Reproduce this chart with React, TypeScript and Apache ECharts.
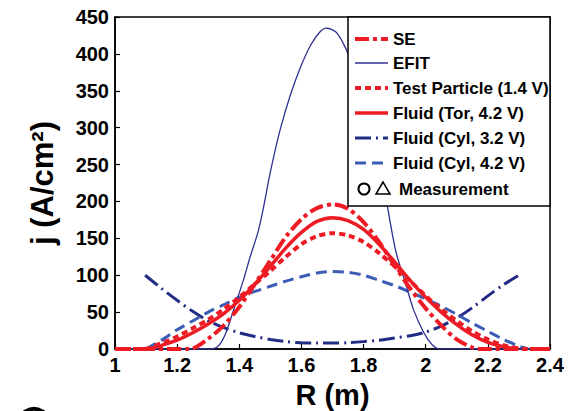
import React, { useEffect, useRef } from "react";
import * as echarts from "echarts";

// x ticks / y ticks
const xTicks = [1, 1.2, 1.4, 1.6, 1.8, 2, 2.2, 2.4];
const yTicks = [0, 50, 100, 150, 200, 250, 300, 350, 400, 450];

// SE
const seR = [1.0, 1.24, 1.3, 1.35, 1.4, 1.45, 1.5, 1.55, 1.6, 1.65, 1.705, 1.75, 1.8, 1.85, 1.9, 1.95, 2.0, 2.05, 2.1, 2.15, 2.18, 2.4];
const seJ = [0, 0, 14, 32, 57, 88, 120, 152, 176, 191, 196, 190, 172, 145, 113, 82, 55, 32, 13, 2, 0, 0];

// EFIT
const efitR = [1.0, 1.3, 1.33, 1.355, 1.387, 1.413, 1.435, 1.46, 1.478, 1.5, 1.532, 1.565, 1.597, 1.63, 1.66, 1.68, 1.71, 1.73, 1.752, 1.8, 1.83, 1.865, 1.903, 1.935, 1.961, 1.994, 2.02, 2.045, 2.4];
const efitJ = [0, 0, 3, 20, 60, 93, 125, 158, 192, 240, 298, 345, 382, 412, 430, 435, 430, 418, 398, 335, 285, 220, 134, 89, 53, 22, 6, 0, 0];

// Test Particle (1.4 V)
const tpR = [1.0, 1.09, 1.15, 1.2, 1.25, 1.3, 1.35, 1.4, 1.45, 1.5, 1.55, 1.6, 1.65, 1.7, 1.75, 1.8, 1.85, 1.9, 1.95, 2.0, 2.05, 2.1, 2.15, 2.2, 2.25, 2.32, 2.4];
const tpJ = [0, 0, 8, 17, 28, 40, 54, 70, 88, 106, 125, 142, 153, 157, 154, 145, 130, 112, 92, 72, 54, 38, 24, 13, 5, 0, 0];

// Fluid (Tor, 4.2 V)
const torR = [1.11, 1.15, 1.2, 1.25, 1.3, 1.35, 1.4, 1.45, 1.5, 1.55, 1.6, 1.65, 1.7, 1.75, 1.8, 1.85, 1.9, 1.95, 2.0, 2.05, 2.1, 2.15, 2.2, 2.25, 2.3];
const torJ = [0, 5, 12, 22, 34, 48, 66, 88, 112, 137, 158, 173, 178, 174, 162, 142, 118, 93, 70, 50, 33, 19, 9, 3, 0];

// Fluid (Cyl, 3.2 V)
const cyl32R = [1.097, 1.15, 1.2, 1.25, 1.3, 1.35, 1.4, 1.45, 1.5, 1.55, 1.6, 1.65, 1.7, 1.75, 1.8, 1.85, 1.9, 1.95, 2.0, 2.05, 2.1, 2.15, 2.2, 2.25, 2.3];
const cyl32J = [100, 82, 66, 51, 38, 29, 22, 17, 13, 10, 8.5, 8, 8, 8.5, 10, 12, 15, 18, 23, 31, 42, 56, 72, 87, 100];

// Fluid (Cyl, 4.2 V)
const cyl42R = [1.1, 1.15, 1.2, 1.25, 1.3, 1.35, 1.4, 1.45, 1.5, 1.55, 1.6, 1.65, 1.7, 1.75, 1.8, 1.85, 1.9, 1.95, 2.0, 2.05, 2.1, 2.15, 2.2, 2.25, 2.3, 2.33];
const cyl42J = [0, 12, 26, 38, 50, 60, 70, 78, 85, 92, 98, 103, 105, 104, 100, 93, 86, 77, 68, 58, 47, 35, 24, 13, 4, 0];

const legendNames = ["SE", "EFIT", "Test Particle (1.4 V)", "Fluid (Tor, 4.2 V)", "Fluid (Cyl, 3.2 V)", "Fluid (Cyl, 4.2 V)"];

const RED = "#ed1c24";
const NAVY = "#2e3192";
const DARK = "#232c85";
const MID = "#3b5db5";
const FONT = "'Liberation Sans Narrow', 'Liberation Sans', Arial, sans-serif";

const pairs = (r: number[], j: number[]) => r.map((v, i) => [v, j[i]]);

export default function App() {
  const ref = useRef<HTMLDivElement>(null);
  useEffect(() => {
    document.body.style.margin = "0";
    const chart = echarts.init(ref.current!, null, { renderer: "svg" });

    const styles = [
      { color: RED, width: 4, type: [14, 4, 4, 4] as any },
      { color: NAVY, width: 1.3, type: "solid" as any },
      { color: RED, width: 4, type: [6, 4] as any },
      { color: RED, width: 3.5, type: "solid" as any },
      { color: DARK, width: 3, type: [16, 5, 2, 5] as any },
      { color: MID, width: 3, type: [11, 6] as any },
    ];
    const datas = [
      pairs(seR, seJ),
      pairs(efitR, efitJ),
      pairs(tpR, tpJ),
      pairs(torR, torJ),
      pairs(cyl32R, cyl32J),
      pairs(cyl42R, cyl42J),
    ];
    const order = [4, 5, 1, 2, 3, 0];
    const series = order.map((k) => ({
      name: legendNames[k],
      type: "line",
      data: datas[k],
      showSymbol: false,
      smooth: 0.3,
      lineStyle: styles[k],
      z: 2 + order.indexOf(k),
    }));

    const lx = 348, ly = 17, lw = 202, lh = 189;
    const rowY = [39, 63, 88, 113, 138, 163, 189];
    const legendEls: any[] = [
      { type: "rect", shape: { x: lx, y: ly, width: lw, height: lh }, style: { fill: "#fff", stroke: "#000", lineWidth: 1.5 }, z: 50 },
    ];
    for (let i = 0; i < 6; i++) {
      const s = styles[i];
      legendEls.push({
        type: "line",
        shape: { x1: 355, y1: rowY[i], x2: 388, y2: rowY[i] },
        style: { stroke: s.color, lineWidth: s.width, lineDash: s.type === "solid" ? null : s.type },
        z: 51,
      });
      legendEls.push({
        type: "text",
        x: 393,
        y: rowY[i],
        style: { text: legendNames[i], font: `bold 17px ${FONT}`, fill: "#000", verticalAlign: "middle", align: "left" },
        z: 51,
      });
    }
    legendEls.push({ type: "circle", shape: { cx: 364, cy: rowY[6], r: 5.5 }, style: { fill: "none", stroke: "#000", lineWidth: 2 }, z: 51 });
    legendEls.push({ type: "polygon", shape: { points: [[383, rowY[6] - 7], [376, rowY[6] + 5], [390, rowY[6] + 5]] }, style: { fill: "none", stroke: "#000", lineWidth: 1.5 }, z: 51 });
    legendEls.push({
      type: "text",
      x: 399,
      y: rowY[6],
      style: { text: "Measurement", font: `bold 17px ${FONT}`, fill: "#000", verticalAlign: "middle", align: "left" },
      z: 51,
    });

    chart.setOption({
      animation: false,
      grid: {
        left: 115, top: 17, right: 20, bottom: 62,
        outerBoundsMode: "none",
        containLabel: false,
        show: true, borderColor: "#000", borderWidth: 1.5, backgroundColor: "transparent",
      },
      xAxis: {
        type: "value",
        min: xTicks[0],
        max: xTicks[xTicks.length - 1],
        interval: 0.2,
        name: "R (m)",
        nameLocation: "middle",
        nameGap: 31,
        nameMoveOverlap: false,
        nameTextStyle: { fontFamily: FONT, fontWeight: "bold", fontSize: 29, color: "#000" },
        axisLine: { lineStyle: { color: "#000", width: 1.5 } },
        axisTick: { inside: true, length: 5, lineStyle: { color: "#000", width: 1.2 } },
        axisLabel: { fontFamily: FONT, fontWeight: "bold", fontSize: 20, color: "#000", margin: 6 },
        splitLine: { show: false },
      },
      yAxis: {
        type: "value",
        min: yTicks[0],
        max: yTicks[yTicks.length - 1],
        interval: 50,
        name: "j (A/cm²)",
        nameLocation: "middle",
        nameGap: 57,
        nameMoveOverlap: false,
        nameRotate: 90,
        nameTextStyle: { fontFamily: FONT, fontWeight: "bold", fontSize: 31, color: "#000" },
        axisLine: { lineStyle: { color: "#000", width: 1.5 } },
        axisTick: { inside: true, length: 5, lineStyle: { color: "#000", width: 1.2 } },
        axisLabel: { fontFamily: FONT, fontWeight: "bold", fontSize: 20, color: "#000", margin: 6 },
        splitLine: { show: false },
      },
      series,
      graphic: [
        ...legendEls,
        { type: "circle", shape: { cx: 34, cy: 425, r: 16 }, style: { fill: "none", stroke: "#000", lineWidth: 4 } },
      ],
    });
    return () => chart.dispose();
  }, []);
  return <div ref={ref} style={{ width: 570, height: 411 }} />;
}
